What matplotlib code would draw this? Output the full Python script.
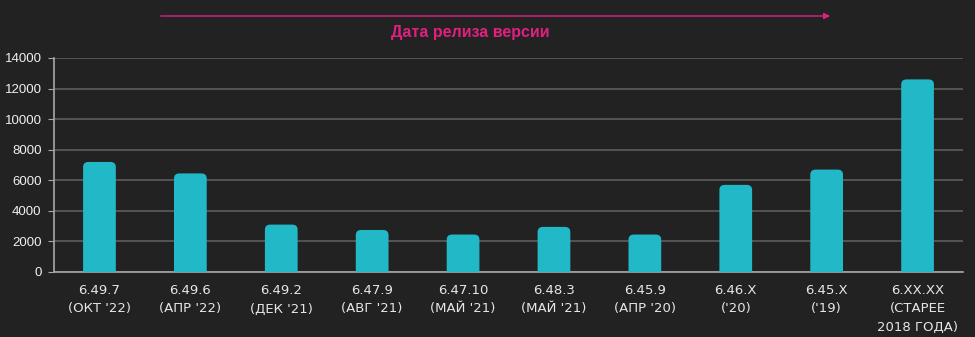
import matplotlib.pyplot as plt
from matplotlib.patches import FancyBboxPatch

versions = ["6.49.7", "6.49.6", "6.49.2", "6.47.9", "6.47.10",
            "6.48.3", "6.45.9", "6.46.X", "6.45.X", "6.XX.XX"]
release_dates = ["(ОКТ '22)", "(АПР '22)", "(ДЕК '21)", "(АВГ '21)", "(МАЙ '21)",
                 "(МАЙ '21)", "(АПР '20)", "('20)", "('19)", "(СТАРЕЕ\n2018 ГОДА)"]
counts = [7200, 6450, 3100, 2750, 2450, 2950, 2450, 5700, 6700, 12600]

BG = "#222222"
BAR = "#21B9C7"
PINK = "#E0207F"

fig = plt.figure(figsize=(9.75, 3.37), dpi=100, facecolor=BG)
ax = fig.add_axes([0.0554, 0.1929, 0.9323, 0.635])
ax.set_facecolor(BG)

width = 0.36
for i, v in enumerate(counts):
    # bar goes a bit below zero so only the top corners show rounded
    patch = FancyBboxPatch((i - width / 2, -600), width, v + 600,
                           boxstyle="round,pad=0,rounding_size=0.06",
                           mutation_aspect=5500,
                           facecolor=BAR, edgecolor="none", zorder=3)
    ax.add_patch(patch)

ax.set_xlim(-0.5, len(counts) - 0.5)
ax.set_ylim(0, 14000)
ax.set_yticks(range(0, 14001, 2000))
ax.set_xticks(range(len(counts)))
ax.set_xticklabels([f"{v}\n{d}" for v, d in zip(versions, release_dates)],
                   family="DejaVu Sans", fontsize=9.5, color="#e6e6e6",
                   linespacing=1.5)
for t in ax.get_yticklabels():
    t.set_family("Liberation Sans")
    t.set_fontsize(9.5)
    t.set_color("#f0f0f0")

ax.grid(axis="y", color="#5c5c5c", linewidth=1.2, zorder=0)
for side in ["top", "right"]:
    ax.spines[side].set_visible(False)
for side in ["left", "bottom"]:
    ax.spines[side].set_color("#a8a8a8")
    ax.spines[side].set_linewidth(1.2)
ax.tick_params(axis="y", length=4, color="#a8a8a8", pad=5)
ax.tick_params(axis="x", length=0, pad=9)

# release date direction arrow
ax.annotate("", xy=(833 / 975, 1 - 16 / 337), xytext=(158 / 975, 1 - 16 / 337),
            xycoords="figure fraction", textcoords="figure fraction",
            arrowprops=dict(arrowstyle="-|>", color=PINK, lw=1.0,
                            mutation_scale=9))
fig.text(470 / 975, 1 - 32 / 337, "Дата релиза версии", color=PINK,
         fontsize=11.5, fontweight="bold", family="Liberation Sans",
         ha="center", va="center")

fig.savefig("out.png", dpi=100, facecolor=BG)
